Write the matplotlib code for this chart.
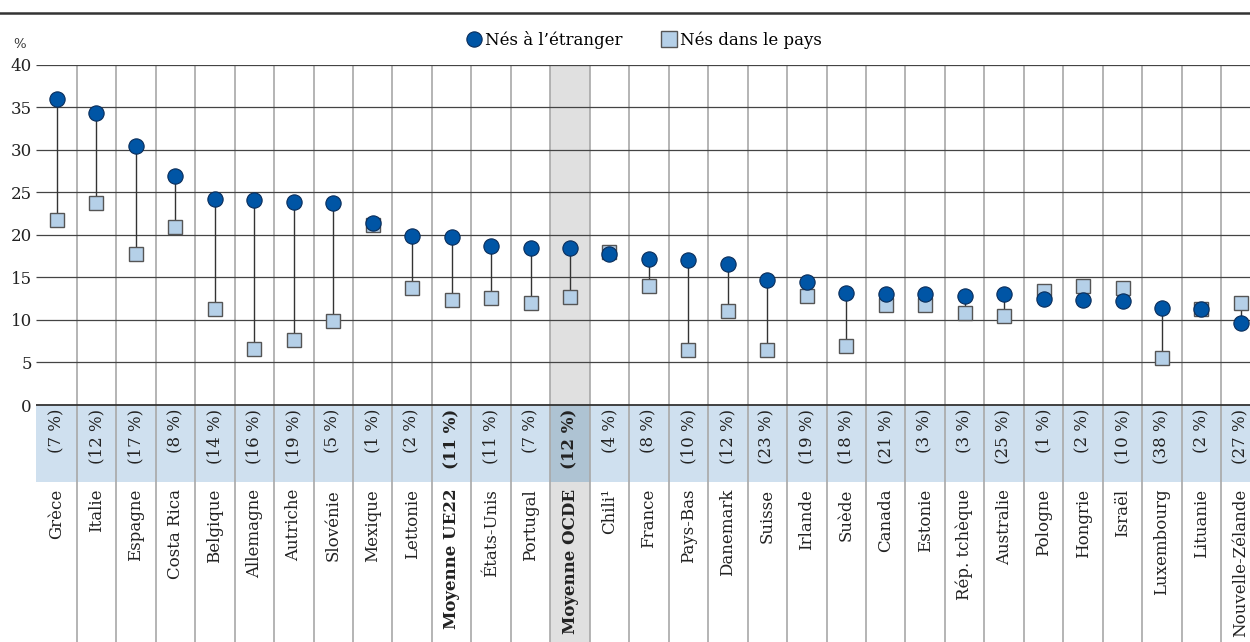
import matplotlib
matplotlib.use("Agg")
import matplotlib.pyplot as plt
from matplotlib.lines import Line2D

countries = ["Grèce", "Italie", "Espagne", "Costa Rica", "Belgique", "Allemagne", "Autriche",
             "Slovénie", "Mexique", "Lettonie", "Moyenne UE22", "États-Unis", "Portugal",
             "Moyenne OCDE", "Chili¹", "France", "Pays-Bas", "Danemark", "Suisse", "Irlande",
             "Suède", "Canada", "Estonie", "Rép. tchèque", "Australie", "Pologne", "Hongrie",
             "Israël", "Luxembourg", "Lituanie", "Nouvelle-Zélande"]
foreign_born = [36.0, 34.35, 30.4, 26.95, 24.25, 24.1, 23.9, 23.7, 21.35, 19.85, 19.8, 18.7,
                18.5, 18.4, 17.75, 17.15, 17.1, 16.55, 14.75, 14.5, 13.2, 13.1, 13.05, 12.8,
                13.0, 12.5, 12.35, 12.25, 11.35, 11.3, 9.65]
native_born = [21.8, 23.8, 17.7, 20.95, 11.3, 6.6, 7.7, 9.9, 21.2, 13.75, 12.4, 12.6, 12.0,
               12.65, 18.0, 14.0, 6.45, 11.1, 6.5, 12.85, 6.9, 11.7, 11.7, 10.85, 10.45,
               13.35, 14.0, 13.7, 5.5, 11.25, 11.95]
share_labels = ["(7 %)", "(12 %)", "(17 %)", "(8 %)", "(14 %)", "(16 %)", "(19 %)", "(5 %)",
                "(1 %)", "(2 %)", "(11 %)", "(11 %)", "(7 %)", "(12 %)", "(4 %)", "(8 %)",
                "(10 %)", "(12 %)", "(23 %)", "(19 %)", "(18 %)", "(21 %)", "(3 %)", "(3 %)",
                "(25 %)", "(1 %)", "(2 %)", "(10 %)", "(38 %)", "(2 %)", "(27 %)"]
bold_items = ["Moyenne UE22", "Moyenne OCDE"]
highlight = "Moyenne OCDE"

plt.rcParams['font.family'] = ['DejaVu Serif']

W, H = 1250, 642
fig = plt.figure(figsize=(W / 100, H / 100), dpi=100)
top_px = 64.7
ax = fig.add_axes([36 / W, 0, 1 - 36 / W, (H - top_px) / H])

ymin = -27.85
band_low = -9.0
xlo, xhi = -0.532, 30.23
ax.set_xlim(xlo, xhi)
ax.set_ylim(ymin, 40)
for s in ax.spines.values():
    s.set_visible(False)

x = list(range(len(countries)))
band_col = "#cfe0ef"
ax.axhspan(band_low, 0, color=band_col, zorder=0, lw=0)

hi = countries.index(highlight)
ax.fill_between([hi - 0.5, hi + 0.5], 0, 40, color="#e0e0e0", zorder=0.5, lw=0)
ax.fill_between([hi - 0.5, hi + 0.5], band_low, 0, color="#aec3d3", zorder=0.5, lw=0)
ax.fill_between([hi - 0.5, hi + 0.5], ymin, band_low, color="#e0e0e0", zorder=0.5, lw=0)

# grid
ax.vlines([i + 0.5 for i in x[:-1]], ymin, 40, color="#a8a8a8", lw=1.2, zorder=1)
ax.hlines(range(5, 45, 5), xlo, xhi, color="#444444", lw=0.9, zorder=1)
ax.hlines(0, xlo, xhi, color="#333333", lw=1.3, zorder=3)

# connectors and markers
ax.vlines(x, native_born, foreign_born, color="#333333", lw=1.0, zorder=2)
ax.plot(x, native_born, ls="none", marker="s", ms=10.5, mfc="#b5d0e8", mec="#555555",
        mew=1.0, zorder=4)
ax.plot(x, foreign_born, ls="none", marker="o", ms=11, mfc="#0055a5", mec="#0a2d5a",
        mew=0.8, zorder=5)

ax.set_yticks(range(0, 45, 5))
ax.set_xticks([])
ax.tick_params(axis="y", length=0, pad=3, labelsize=12, labelcolor="#222222")

for i, (c, p) in enumerate(zip(countries, share_labels)):
    w = "bold" if c in bold_items else "normal"
    ax.text(i, -0.45, p, rotation=90, ha="center", va="top", fontsize=12,
            fontweight=w, color="#222222", zorder=6)
    ax.text(i, band_low - 0.85, c, rotation=90, ha="center", va="top", fontsize=12,
            fontweight=w, color="#222222", zorder=6)

fig.text(13 / W, 1 - 45 / H, "%", fontsize=9.5, color="#333333", ha="left", va="center")

# top rule
fig.add_artist(Line2D([0, 1], [1 - 13 / H, 1 - 13 / H], color="#333333", lw=1.8))

handles = [
    Line2D([], [], ls="none", marker="o", ms=11, mfc="#0055a5", mec="#0a2d5a", mew=0.8),
    Line2D([], [], ls="none", marker="s", ms=11, mfc="#b5d0e8", mec="#555555", mew=1.0),
]
fig.legend(handles, ["Nés à l’étranger", "Nés dans le pays"], loc="center",
           bbox_to_anchor=(643 / W, 1 - 40 / H), ncol=2, frameon=False, fontsize=12,
           handletextpad=0.05, columnspacing=2.2, handlelength=1.2)

fig.savefig("out.png", dpi=100)
